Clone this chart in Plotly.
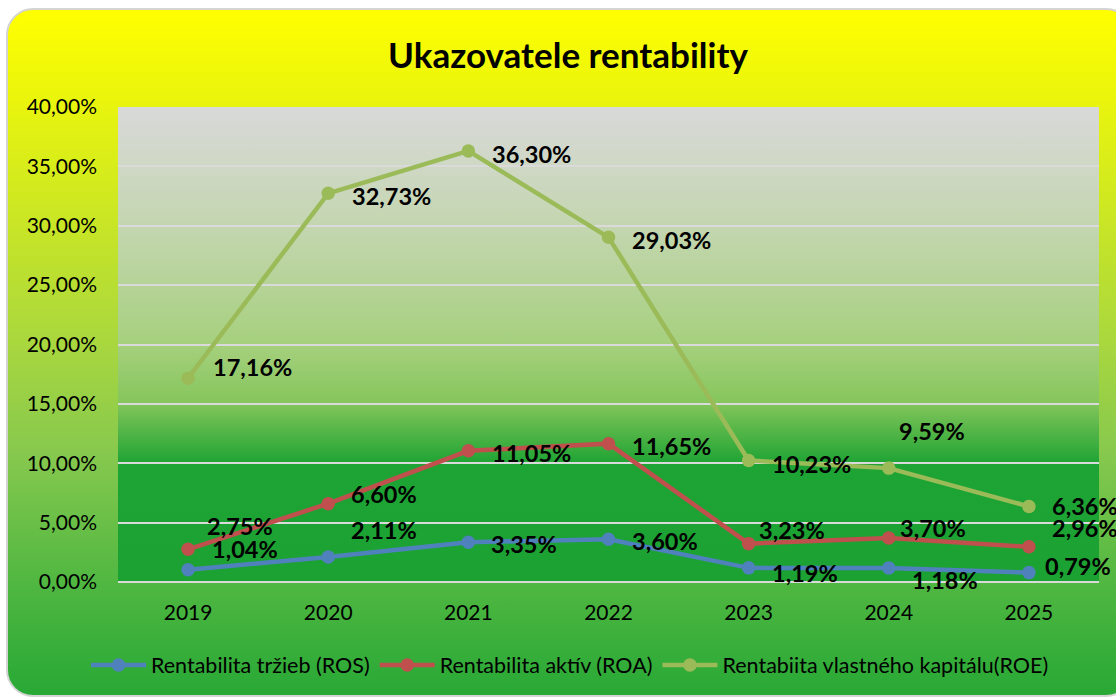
import base64
import plotly.graph_objects as go

years = ["2019", "2020", "2021", "2022", "2023", "2024", "2025"]
ros = [0.0104, 0.0211, 0.0335, 0.0360, 0.0119, 0.0118, 0.0079]
roa = [0.0275, 0.0660, 0.1105, 0.1165, 0.0323, 0.0370, 0.0296]
roe = [0.1716, 0.3273, 0.3630, 0.2903, 0.1023, 0.0959, 0.0636]

names = ["Rentabilita tržieb (ROS)", "Rentabilita aktív (ROA)", "Rentabiita vlastného kapitálu(ROE)"]
colors = ["#4f81bd", "#c0504d", "#9bbb59"]

# label offsets (px) relative to each point: (dx, dy) with dy positive downward
ros_off = [(57, -21), (56, -27), (56, 2), (56, 2), (56, 5), (56, 12), (49, -7)]
roa_off = [(52, -23), (56, -10), (63, 2), (63, 2), (43, -14), (44, -10), (56, -19)]
roe_off = [(64, -11), (63, 3), (63, 3), (63, 3), (63, 3), (43, -37), (56, 0)]

W, H = 1116, 697
L, R, T, B = 118, 17, 107, 115
PW, PH = W - L - R, H - T - B

svg = f'''<svg xmlns="http://www.w3.org/2000/svg" width="{W}" height="{H}" viewBox="0 0 {W} {H}" preserveAspectRatio="none">
<defs>
<linearGradient id="o" x1="0" y1="0" x2="0" y2="1">
<stop offset="0" stop-color="#ffff00"/>
<stop offset="0.13" stop-color="#eaf50c"/>
<stop offset="0.5" stop-color="#a6d640"/>
<stop offset="0.65" stop-color="#86c84e"/>
<stop offset="0.85" stop-color="#4cb640"/>
<stop offset="1" stop-color="#28a836"/>
</linearGradient>
<linearGradient id="p" x1="0" y1="0" x2="0" y2="1">
<stop offset="0" stop-color="#d9d9d9"/>
<stop offset="0.25" stop-color="#c4d6b0"/>
<stop offset="0.5" stop-color="#a6d07e"/>
<stop offset="0.62" stop-color="#86c65c"/>
<stop offset="0.68" stop-color="#56b648"/>
<stop offset="0.75" stop-color="#1ea434"/>
<stop offset="1" stop-color="#1ba232"/>
</linearGradient>
</defs>
<rect x="0" y="0" width="{W}" height="{H}" fill="#ffffff"/>
<rect x="7" y="9" width="1125" height="687" rx="26" ry="26" fill="url(#o)" stroke="#d4d4d4" stroke-width="2"/>
<rect x="{L}" y="{T}" width="{PW}" height="{PH}" fill="url(#p)"/>
</svg>'''
src = "data:image/svg+xml;base64," + base64.b64encode(svg.encode("utf-8")).decode()

fig = go.Figure()
for vals, name, col in zip([ros, roa, roe], names, colors):
    fig.add_trace(go.Scatter(
        x=years, y=vals, name=name, mode="lines+markers",
        line=dict(color=col, width=4.5),
        marker=dict(color=col, size=13.5),
    ))

annotations = []
for vals, offs in zip([ros, roa, roe], [ros_off, roa_off, roe_off]):
    for i, (v, (dx, dy)) in enumerate(zip(vals, offs)):
        annotations.append(dict(
            x=i, y=v, xref="x", yref="y", showarrow=False,
            text=f"{v*100:.2f}%".replace(".", ","),
            xshift=dx, yshift=-dy,
            font=dict(family="Lato", size=23.5, color="black", weight="bold"),
        ))

fig.update_layout(
    width=W, height=H,
    margin=dict(l=L, r=R, t=T, b=B, autoexpand=False),
    paper_bgcolor="white",
    plot_bgcolor="rgba(0,0,0,0)",
    separators=", ",
    font=dict(family="Lato", size=21, color="black"),
    title=dict(
        text="<b>Ukazovatele rentability</b>",
        font=dict(family="Lato", size=35, color="black"),
        x=(568 - L) / PW, xref="paper", xanchor="center",
        y=1 - 56 / H, yref="container", yanchor="middle",
    ),
    images=[dict(
        source=src, xref="paper", yref="paper",
        x=-L / PW, y=1 + T / PH, sizex=W / PW, sizey=H / PH,
        xanchor="left", yanchor="top", sizing="stretch", layer="below",
    )],
    xaxis=dict(
        type="category", range=[-0.5, 6.5],
        showgrid=False, showline=False, zeroline=False,
        ticks="", ticklabelstandoff=16,
        tickfont=dict(family="Lato", size=21, color="black"),
    ),
    yaxis=dict(
        range=[0, 0.40], dtick=0.05, tickformat=".2%",
        showgrid=True, gridcolor="#dadada", gridwidth=2,
        zeroline=True, zerolinecolor="#dadada", zerolinewidth=2,
        showline=False, ticks="", ticklabelstandoff=20,
        tickfont=dict(family="Lato", size=21, color="black"),
    ),
    legend=dict(
        orientation="h", xref="container", x=570 / W, xanchor="center",
        yref="container", y=1 - 665 / H, yanchor="middle",
        font=dict(family="Lato", size=21.5, color="black"),
        itemwidth=55, bgcolor="rgba(0,0,0,0)",
    ),
    annotations=annotations,
    showlegend=True,
)

fig.write_html("out.html")
